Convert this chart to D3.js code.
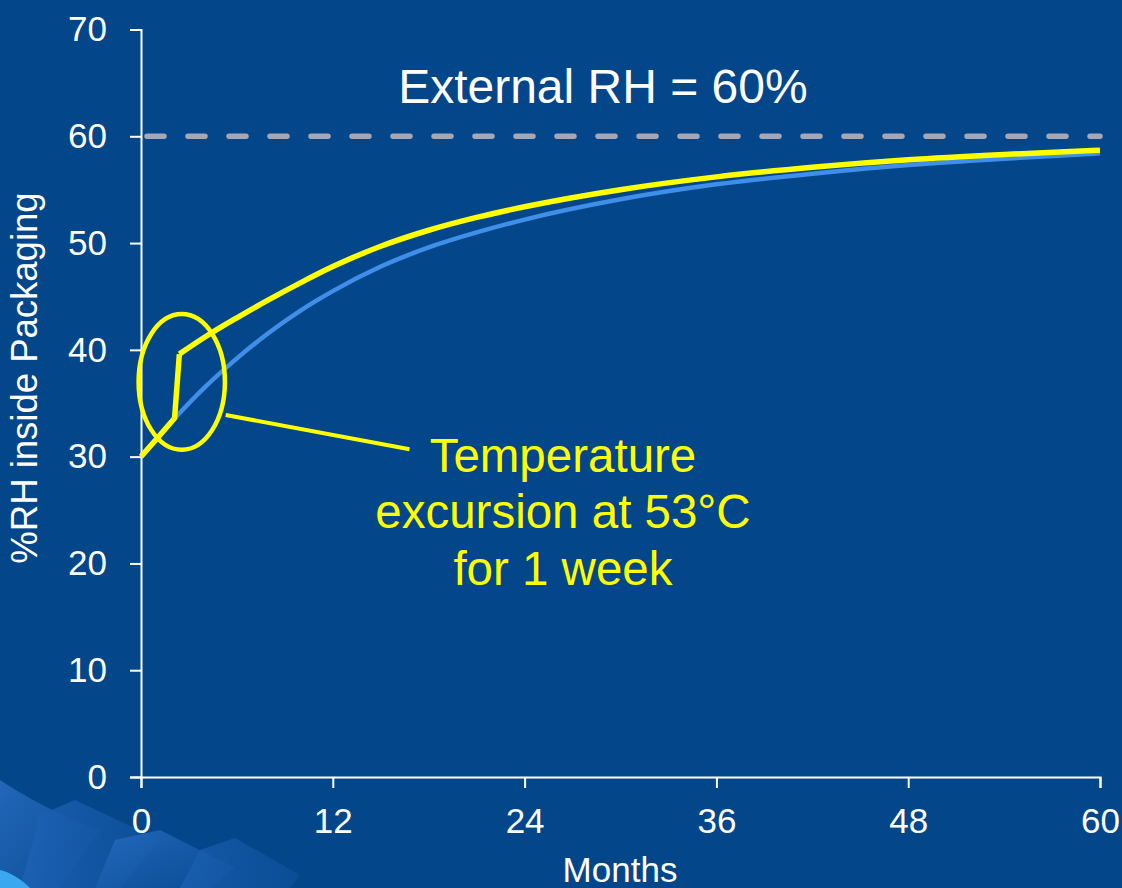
<!DOCTYPE html>
<html>
<head>
<meta charset="utf-8">
<script src="https://cdn.jsdelivr.net/npm/d3@7"></script>
<style>
  html, body { margin: 0; padding: 0; background: #03468a; }
  svg { display: block; }
  text { font-family: "Liberation Sans", Arial, sans-serif; }
</style>
</head>
<body>
<svg id="chart" width="1122" height="888"></svg>
<script>
// ---- data ----
const xTicks = [0, 12, 24, 36, 48, 60];
const yTicks = [0, 10, 20, 30, 40, 50, 60, 70];
const externalRH = 60;

const blueMonths = [0, 1, 2, 3, 4, 6, 8, 10, 12, 15, 18, 21, 24, 30, 36, 42, 48, 54, 60];
const blueRH     = [30, 31.7, 33.4, 35.0, 36.5, 39.2, 41.6, 43.7, 45.5, 47.8, 49.6, 51.0, 52.2, 54.1, 55.5, 56.5, 57.3, 57.9, 58.4];

const yellowPreMonths = [0, 1, 2.1, 2.4];
const yellowPreRH     = [30, 31.7, 33.6, 39.6];
const yellowMonths = [2.4, 4, 6, 8, 10, 12, 15, 18, 21, 24, 30, 36, 42, 48, 54, 60];
const yellowRH     = [39.6, 41.2, 43.0, 44.7, 46.3, 47.8, 49.7, 51.2, 52.4, 53.4, 55.0, 56.2, 57.1, 57.8, 58.3, 58.7];

const titleText = "External RH = 60%";
const noteLines = ["Temperature", "excursion at 53°C", "for 1 week"];
const xTitle = "Months";
const yTitle = "%RH inside Packaging";

// ---- layout ----
const svg = d3.select("#chart");
const W = 1122, H = 888;
const x = d3.scaleLinear().domain([0, 60]).range([141, 1100]);
const y = d3.scaleLinear().domain([0, 70]).range([777, 29.5]);

// background
svg.append("rect").attr("width", W).attr("height", H).attr("fill", "#03468a");

// decorative bottom-left shapes
const defs = svg.append("defs");
const g1 = defs.append("linearGradient").attr("id", "deco").attr("x1", "0").attr("y1", "0").attr("x2", "1").attr("y2", "1");
g1.append("stop").attr("offset", "0").attr("stop-color", "#2a6fc4");
g1.append("stop").attr("offset", "1").attr("stop-color", "#0a4f98");
const g2 = defs.append("linearGradient").attr("id", "deco2").attr("x1", "0").attr("y1", "0").attr("x2", "1").attr("y2", "0");
g2.append("stop").attr("offset", "0").attr("stop-color", "#1d62b5");
g2.append("stop").attr("offset", "1").attr("stop-color", "#0c5099");
const deco = svg.append("g");
deco.append("path").attr("d", "M0,780 C30,800 70,820 100,830 L60,888 L0,888 Z").attr("fill", "url(#deco)").attr("opacity", 0.8);
deco.append("path").attr("d", "M40,815 L75,800 L160,840 L120,888 L20,888 Z").attr("fill", "url(#deco2)").attr("opacity", 0.85);
deco.append("path").attr("d", "M115,840 L160,830 L235,868 L210,888 L95,888 Z").attr("fill", "url(#deco)").attr("opacity", 0.75);
deco.append("path").attr("d", "M200,850 L235,838 L300,875 L290,888 L180,888 Z").attr("fill", "url(#deco2)").attr("opacity", 0.7);
deco.append("path").attr("d", "M0,870 C10,872 22,880 30,888 L0,888 Z").attr("fill", "#3aa8f0");

// dashed external RH line
svg.append("line")
  .attr("x1", x(0) + 6).attr("x2", x(60)).attr("y1", y(externalRH)).attr("y2", y(externalRH))
  .attr("stroke", "#a6a6b4").attr("stroke-width", 5.5)
  .attr("stroke-dasharray", "17,24").attr("stroke-linecap", "round");

// axes
const xAxis = d3.axisBottom(x).tickValues(xTicks).tickSize(11).tickSizeOuter(11).tickPadding(20);
const yAxis = d3.axisLeft(y).tickValues(yTicks).tickSize(11).tickSizeOuter(11).tickPadding(23);

const gx = svg.append("g").attr("transform", "translate(0,777)").call(xAxis);
const gy = svg.append("g").attr("transform", "translate(141,0)").call(yAxis);
[gx, gy].forEach(g => {
  g.select(".domain").attr("stroke", "#ffffff").attr("stroke-width", 2);
  g.selectAll(".tick line").attr("stroke", "#ffffff").attr("stroke-width", 2);
  g.selectAll(".tick text").attr("fill", "#ffffff").attr("font-size", 35)
    .attr("font-family", "Liberation Sans, Arial, sans-serif");
});

// curves
const blueData = blueMonths.map((m, i) => [m, blueRH[i]]);
const yPre = yellowPreMonths.map((m, i) => [m, yellowPreRH[i]]);
const yPost = yellowMonths.map((m, i) => [m, yellowRH[i]]);

const smooth = d3.line().x(d => x(d[0])).y(d => y(d[1])).curve(d3.curveMonotoneX);
const straight = d3.line().x(d => x(d[0])).y(d => y(d[1]));

svg.append("path").attr("d", smooth(blueData))
  .attr("fill", "none").attr("stroke", "#3f8ee8").attr("stroke-width", 4.5);

svg.append("path").attr("d", straight(yPre))
  .attr("fill", "none").attr("stroke", "#ffff00").attr("stroke-width", 5.5)
  .attr("stroke-linejoin", "miter");
svg.append("path").attr("d", smooth(yPost))
  .attr("fill", "none").attr("stroke", "#ffff00").attr("stroke-width", 5.5);

// annotation ellipse + leader
const ec = [2.55, 37.0];
svg.append("ellipse")
  .attr("cx", x(ec[0])).attr("cy", y(ec[1]))
  .attr("rx", x(2.7) - x(0)).attr("ry", y(0) - y(6.35))
  .attr("fill", "none").attr("stroke", "#ffff00").attr("stroke-width", 4.5);
svg.append("line")
  .attr("x1", x(5.3)).attr("y1", y(33.9)).attr("x2", x(16.8)).attr("y2", y(30.7))
  .attr("stroke", "#ffff00").attr("stroke-width", 4);

// annotation text
const note = svg.append("text")
  .attr("x", x(26.4)).attr("y", y(28.6))
  .attr("text-anchor", "middle").attr("fill", "#ffff00").attr("font-size", 47.5);
noteLines.forEach((t, i) => {
  note.append("tspan").attr("x", x(26.4)).attr("dy", i === 0 ? 0 : 56.5).text(t);
});

// title
svg.append("text").attr("x", x(28.9)).attr("y", y(63.1))
  .attr("text-anchor", "middle").attr("fill", "#ffffff").attr("font-size", 48)
  .text(titleText);

// axis titles
svg.append("text").attr("x", 620).attr("y", 882)
  .attr("text-anchor", "middle").attr("fill", "#ffffff").attr("font-size", 35)
  .text(xTitle);
svg.append("text")
  .attr("transform", "translate(37,378) rotate(-90)")
  .attr("text-anchor", "middle").attr("fill", "#ffffff").attr("font-size", 36.5)
  .text(yTitle);
</script>
</body>
</html>
